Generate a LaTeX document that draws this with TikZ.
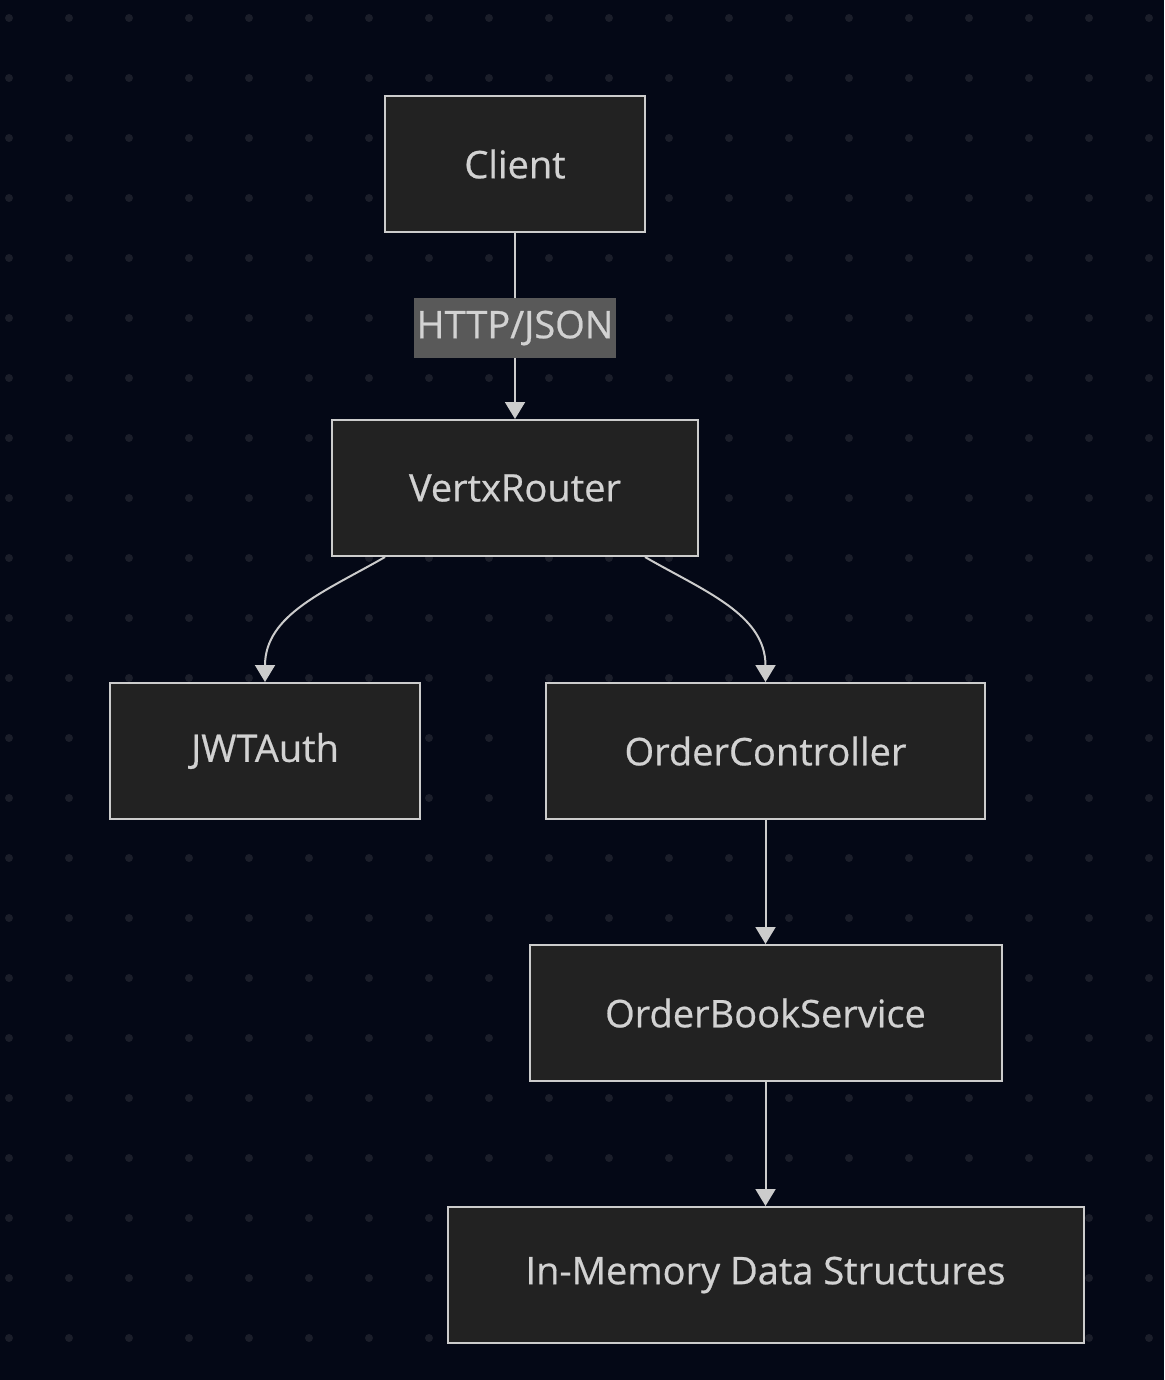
\documentclass[tikz,border=0pt]{standalone}
\usepackage{fontspec}
\setmainfont{Open Sans}[BoldFont={Open Sans},BoldFeatures={FakeBold=0.6}]
\usepackage{tikz}
\usetikzlibrary{arrows.meta,positioning}
\definecolor{bgdark}{HTML}{040816}
\definecolor{griddot}{HTML}{1B1E2A}
\definecolor{boxfill}{HTML}{222222}
\definecolor{boxline}{HTML}{CCCCCC}
\definecolor{boxtext}{HTML}{D2D2D2}
\definecolor{lblfill}{HTML}{595959}

\begin{document}
\begin{tikzpicture}[x=1pt,y=-1pt,>={Triangle[width=20pt,length=17pt]},
  font=\fontsize{38}{44}\selectfont\bfseries]

\tikzset{
b/.style={
    draw=boxline,
    line width=2pt,
    fill=boxfill,
    text=boxtext,
    minimum height=136pt,
    inner sep=0pt
},
a/.style={->,line width=2pt,color=boxline},
lbl/.style={
    fill=lblfill,
    text=boxtext,
    inner xsep=3pt,
    inner ysep=0pt,
    minimum height=60pt,
    yshift=-2pt
}
}

% background with dot grid
\fill[bgdark] (0,0) rectangle (1164,1380);
\foreach \x in {9,69,...,1149}
  \foreach \y in {18,78,...,1338}
    \fill[griddot] (\x,\y) circle (4pt);

\node[b,minimum width=260pt] (client) at (515,164) {Client};
\node[b,minimum width=366pt,below=186pt of client] (router) {VertxRouter};
\node[b,minimum width=310pt] (jwt) at (265,751) {JWTAuth};
\node[b,minimum width=439pt] (ctrl) at (765.5,751) {OrderController};
\node[b,minimum width=472pt,below=124pt of ctrl] (service) {OrderBookService};
\node[b,minimum width=636pt,below=124pt of service] (memory) {In-Memory Data Structures};

\draw[a] (client) -- node[lbl] {HTTP/JSON} (router);
\draw[a] ([xshift=-130pt]router.south) to[out=-150,in=90] (jwt.north);
\draw[a] ([xshift=130pt]router.south) to[out=-30,in=90] (ctrl.north);
\draw[a] (ctrl) -- (service);
\draw[a] (service) -- (memory);

\end{tikzpicture}
\end{document}
